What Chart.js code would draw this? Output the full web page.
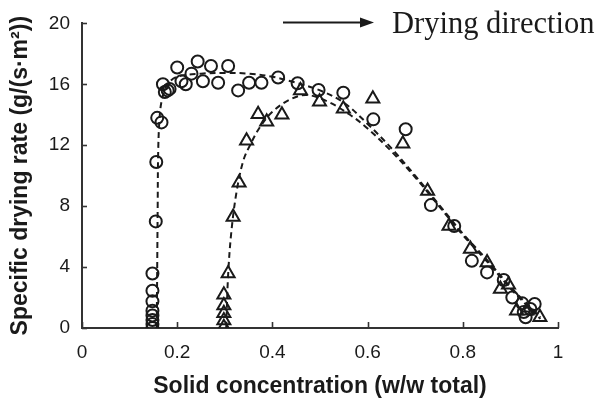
<!DOCTYPE html>
<html><head><meta charset="utf-8">
<script src="https://cdn.jsdelivr.net/npm/chart.js@4/dist/chart.umd.min.js"></script>
<style>html,body{margin:0;padding:0;background:#fff;}#wrap{width:599px;height:398px;}</style>
</head><body><div id="wrap"><canvas id="c" width="599" height="398"></canvas></div>
<script>
// Circles (first sample)
const circleX = [0.148,0.148,0.148,0.148,0.148,0.148,0.148,0.148,0.155,0.156,0.158,0.167,
  0.170,0.174,0.180,0.184,0.200,0.209,0.218,0.230,0.243,0.254,0.271,0.286,0.307,0.328,0.351,0.377,
  0.412,0.453,0.497,0.549,0.612,0.680,0.733,0.782,0.819,0.851,0.886,0.904,0.925,0.928,0.932,0.942,0.951];
const circleY = [0,0.27,0.53,0.82,1.14,1.75,2.45,3.58,7.0,10.9,13.8,13.5,
  16.0,15.5,15.6,15.7,17.1,16.2,16.0,16.7,17.5,16.2,17.2,16.1,17.2,15.6,16.1,16.1,
  16.45,16.07,15.63,15.45,13.7,13.05,8.07,6.7,4.41,3.65,3.15,2.0,1.62,1.05,0.7,1.25,1.58];
// Triangles (second sample)
const triX = [0.298,0.298,0.298,0.298,0.298,0.307,0.3175,0.330,0.3457,0.370,0.388,0.420,0.459,0.499,0.549,
  0.611,0.674,0.726,0.771,0.816,0.851,0.879,0.896,0.913,0.934,0.962];
const triY = [0.05,0.49,0.97,1.47,2.19,3.58,7.29,9.53,12.3,14.04,13.55,14.0,15.6,14.85,14.4,
  15.05,12.1,8.99,6.7,5.18,4.3,2.56,2.84,1.14,1.14,0.7];
// Dashed fitted curves
const circCurveX = [0.157,0.158,0.159,0.160,0.163,0.168,0.18,0.2,0.25,0.3,0.35,0.4,0.45,0.5,0.55,0.6,0.65,0.7,0.75,0.8,0.85,0.9,0.95,0.963];
const circCurveY = [0,4,8,11.5,13.8,15.0,16.0,16.5,16.7,16.75,16.7,16.5,16.1,15.6,14.8,13.4,11.8,10.0,8.1,6.2,4.5,2.7,1.1,0.7];
const triCurveX = [0.303,0.307,0.314,0.325,0.339,0.353,0.374,0.40,0.437,0.472,0.514,0.563,0.6,0.65,0.7,0.75,0.8,0.85,0.9,0.95,0.963];
const triCurveY = [0,3.5,6.4,9.0,11.0,12.0,13.2,14.2,15.0,15.3,14.9,14.0,13.1,11.6,9.9,8.0,6.1,4.4,2.6,1.0,0.6];
const xTicks = [0,0.2,0.4,0.6,0.8,1];
const yTicks = [0,4,8,12,16,20];
const xTitle = 'Solid concentration (w/w total)';
const yTitle = 'Specific drying rate (g/(s·m²))';
const noteText = 'Drying direction';

const pts = (xs, ys) => xs.map((x, i) => ({x, y: ys[i]}));
const INK = '#1a1a1a';

const innerTicks = {
  id: 'innerTicks',
  afterDraw(chart) {
    const ctx = chart.ctx, xs = chart.scales.x, ys = chart.scales.y;
    const a = chart.chartArea;
    ctx.save();
    ctx.strokeStyle = '#333';
    ctx.lineWidth = 1.6;
    xTicks.forEach(v => {
      const px = Math.round(xs.getPixelForValue(v)) + 0.5;
      ctx.beginPath(); ctx.moveTo(px, a.bottom); ctx.lineTo(px, a.bottom - 6); ctx.stroke();
    });
    yTicks.forEach(v => {
      const py = Math.round(ys.getPixelForValue(v)) + 0.5;
      ctx.beginPath(); ctx.moveTo(a.left, py); ctx.lineTo(a.left + 5, py); ctx.stroke();
    });
    // annotation: arrow + text
    ctx.strokeStyle = INK; ctx.fillStyle = INK; ctx.lineWidth = 2;
    ctx.beginPath(); ctx.moveTo(283, 22.5); ctx.lineTo(364, 22.5); ctx.stroke();
    ctx.beginPath(); ctx.moveTo(374, 22.5); ctx.lineTo(360, 17.5); ctx.lineTo(360, 27.5); ctx.closePath(); ctx.fill();
    ctx.font = "30.5px 'Liberation Serif'";
    ctx.textBaseline = 'alphabetic';
    ctx.textAlign = 'left';
    ctx.fillText(noteText, 392, 33);
    ctx.restore();
  }
};

new Chart(document.getElementById('c'), {
  type: 'scatter',
  data: {
    datasets: [
      {label: 'circles', data: pts(circleX, circleY), pointStyle: 'circle', pointRadius: 6, pointBorderWidth: 2,
       borderColor: INK, backgroundColor: 'rgba(0,0,0,0)', showLine: false, order: 1},
      {label: 'triangles', data: pts(triX, triY), pointStyle: 'triangle', pointRadius: 7.5, pointBorderWidth: 2,
       borderColor: INK, backgroundColor: 'rgba(0,0,0,0)', showLine: false, order: 2},
      {label: 'fit1', data: pts(circCurveX, circCurveY), showLine: true, pointRadius: 0, borderColor: INK,
       borderWidth: 2, borderDash: [6, 4], tension: 0.35, fill: false, order: 3},
      {label: 'fit2', data: pts(triCurveX, triCurveY), showLine: true, pointRadius: 0, borderColor: INK,
       borderWidth: 2, borderDash: [6, 4], tension: 0.35, fill: false, order: 4}
    ]
  },
  options: {
    responsive: false, animation: false, devicePixelRatio: 1,
    layout: {padding: {left: 0, right: 41, top: 21, bottom: 0}},
    plugins: {legend: {display: false}, tooltip: {enabled: false}},
    scales: {
      x: {
        type: 'linear', min: 0, max: 1,
        afterBuildTicks: s => { s.ticks = xTicks.map(v => ({value: v})); },
        afterFit: s => { s.height = 70; },
        grid: {display: false, drawTicks: false},
        border: {display: true, color: '#333', width: 2},
        ticks: {color: INK, padding: 13, font: {family: "'Liberation Sans'", size: 19},
          callback: v => String(v)},
        title: {display: true, text: xTitle, color: INK, padding: {top: 0, bottom: 0},
          font: {family: "'Liberation Sans'", size: 23, weight: 'bold', lineHeight: 1}}
      },
      y: {
        type: 'linear', min: 0, max: 20,
        afterBuildTicks: s => { s.ticks = yTicks.map(v => ({value: v})); },
        afterFit: s => { s.width = 82; },
        grid: {display: false, drawTicks: false},
        border: {display: true, color: '#333', width: 2},
        ticks: {color: INK, padding: 12, font: {family: "'Liberation Sans'", size: 19}},
        title: {display: true, text: yTitle, color: INK, padding: {top: 7, bottom: 0},
          font: {family: "'Liberation Sans'", size: 23, weight: 'bold', lineHeight: 1.2}}
      }
    }
  },
  plugins: [innerTicks]
});
</script></body></html>
